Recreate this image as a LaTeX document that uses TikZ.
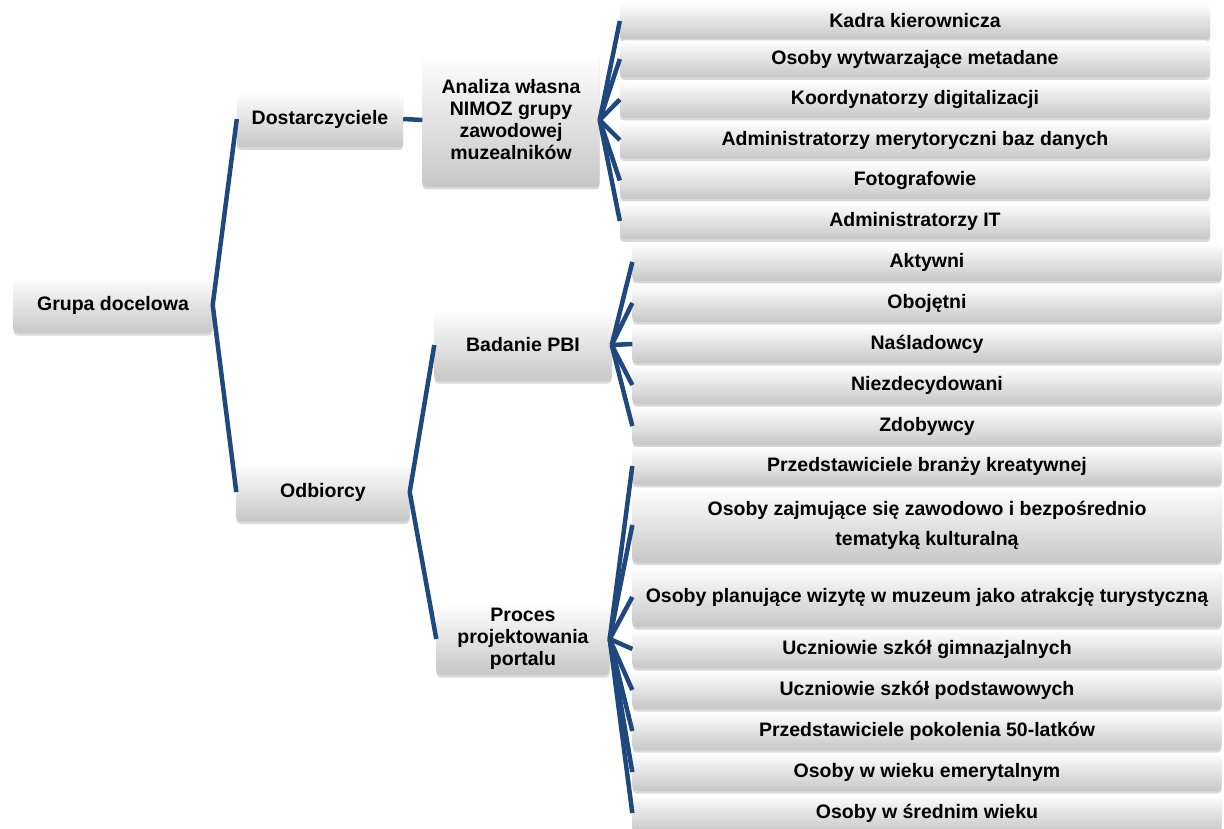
\documentclass[tikz,border=0pt]{standalone}
\usepackage{fontspec}
\setmainfont{Liberation Sans}
\usetikzlibrary{positioning,shadows}

\definecolor{linkblue}{RGB}{31,73,125}

\tikzset{
  box/.style={rounded corners=4pt, top color=white, bottom color=black!22,
    drop shadow={shadow xshift=0pt, shadow yshift=-2.5pt, opacity=0.3},
    align=center, inner sep=2pt, font=\fontsize{19.5}{22}\selectfont\bfseries},
  leaf/.style={box, minimum width=590pt, minimum height=37pt,
    font=\fontsize{19.5}{30}\selectfont\bfseries},
  link/.style={draw=linkblue, line width=4.5pt}
}

\begin{document}
\begin{tikzpicture}[x=1pt, y=-1pt, node distance=40.5pt]
    \useasboundingbox (0,0) rectangle (1224,829);

    \node [box, minimum width=199pt, minimum height=56pt] (grupa) at (113,305) {Grupa docelowa};
    \node [box, minimum width=166pt, minimum height=57pt] (dost) at (320,119) {Dostarczyciele};
    \node [box, minimum width=173pt, minimum height=59pt] (odb) at (323,492) {Odbiorcy};
    \node [box, minimum width=177pt, minimum height=134pt] (analiza) at (511,120) {Analiza własna\\NIMOZ grupy\\zawodowej\\muzealników};
    \node [box, minimum width=177pt, minimum height=72pt] (pbi) at (523,345) {Badanie PBI};
    \node [box, minimum width=173pt, minimum height=72pt] (proces) at (523,639) {Proces\\projektowania\\portalu};

    % dostarczyciele
    \node [leaf] (kadra) at (915,21) {Kadra kierownicza};
    \node [leaf, below of=kadra, node distance=38pt] (meta) {Osoby wytwarzające metadane};
    \node [leaf, below of=meta] (koord) {Koordynatorzy digitalizacji};
    \node [leaf, below of=koord] (admin) {Administratorzy merytoryczni baz danych};
    \node [leaf, below of=admin] (foto) {Fotografowie};
    \node [leaf, below of=foto] (it) {Administratorzy IT};

    % badanie PBI
    \node [leaf, minimum width=589pt, minimum height=38pt] (akt) at (927,262) {Aktywni};
    \node [leaf, minimum width=589pt, minimum height=38pt, below of=akt, node distance=41pt] (oboj) {Obojętni};
    \node [leaf, minimum width=589pt, minimum height=38pt, below of=oboj, node distance=41pt] (nasl) {Naśladowcy};
    \node [leaf, minimum width=589pt, minimum height=38pt, below of=nasl, node distance=41pt] (niez) {Niezdecydowani};
    \node [leaf, minimum width=589pt, minimum height=38pt, below of=niez, node distance=41pt] (zdob) {Zdobywcy};

    % proces projektowania
    \node [leaf, minimum width=589pt, minimum height=38pt] (kreat) at (927,466) {Przedstawiciele branży kreatywnej};
    \node [leaf, minimum width=589pt, minimum height=75pt] (kult) at (927,525) {Osoby zajmujące się zawodowo i bezpośrednio\\tematyką kulturalną};
    \node [leaf, minimum width=589pt, minimum height=60pt] (turyst) at (927,597) {Osoby planujące wizytę w muzeum jako atrakcję turystyczną};
    \node [leaf, minimum width=589pt, minimum height=38pt] (gimn) at (927,649) {Uczniowie szkół gimnazjalnych};
    \node [leaf, minimum width=589pt, minimum height=38pt, below of=gimn, node distance=41pt] (podst) {Uczniowie szkół podstawowych};
    \node [leaf, minimum width=589pt, minimum height=38pt, below of=podst, node distance=41pt] (piec) {Przedstawiciele pokolenia 50-latków};
    \node [leaf, minimum width=589pt, minimum height=38pt, below of=piec, node distance=41pt] (emer) {Osoby w wieku emerytalnym};
    \node [leaf, minimum width=589pt, minimum height=38pt, below of=emer, node distance=41pt] (sred) {Osoby w średnim wieku};

    \draw [link] (grupa.east) -- (dost.west);
    \draw [link] (grupa.east) -- (odb.west);
    \draw [link] (dost.east) -- (analiza.west);
    \draw [link] (odb.east) -- (pbi.west);
    \draw [link] (odb.east) -- (proces.west);

    \foreach \c in {kadra,meta,koord,admin,foto,it}
        \draw [link] (analiza.east) -- (\c.west);
    \foreach \c in {akt,oboj,nasl,niez,zdob}
        \draw [link] (pbi.east) -- (\c.west);
    \foreach \c in {kreat,kult,turyst,gimn,podst,piec,emer,sred}
        \draw [link] (proces.east) -- (\c.west);
\end{tikzpicture}
\end{document}
